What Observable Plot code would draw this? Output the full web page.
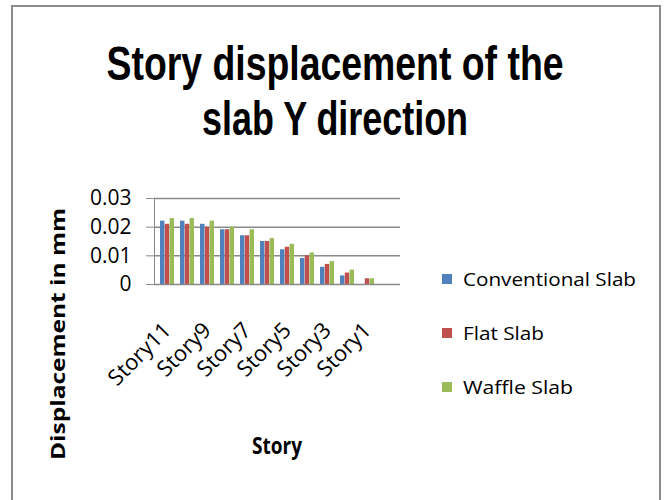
<!DOCTYPE html>
<html>
<head>
<meta charset="utf-8">
<script src="https://cdn.jsdelivr.net/npm/d3@7"></script>
<script src="https://cdn.jsdelivr.net/npm/@observablehq/plot@0.6"></script>
<style>
  html, body { margin: 0; padding: 0; background: #fff; }
  #chart svg { display: block; }
</style>
</head>
<body>
<div id="chart"></div>
<script>
// ---- data ----
const categories = ["Story11","Story10","Story9","Story8","Story7","Story6","Story5","Story4","Story3","Story2","Story1","Base"];
const seriesNames = ["Conventional Slab","Flat Slab","Waffle Slab"];
const conventional = [0.0221,0.0221,0.0210,0.0191,0.0170,0.0150,0.0121,0.0091,0.0060,0.0030,0,0];
const flat         = [0.0210,0.0210,0.0200,0.0191,0.0170,0.0150,0.0130,0.0100,0.0070,0.0040,0.0020,0];
const waffle       = [0.0230,0.0230,0.0221,0.0200,0.0191,0.0160,0.0140,0.0110,0.0080,0.0050,0.0020,0];
const yTicks = [0, 0.01, 0.02, 0.03];
const yTickLabels = ["0","0.01","0.02","0.03"];
const xTickLabels = ["Story11","Story9","Story7","Story5","Story3","Story1"];
const colors = ["#4F81BD","#C0504D","#9BBB59"];
const titleLines = ["Story displacement of the","slab Y direction"];
const xTitle = "Story";
const yTitle = "Displacement in mm";

const seriesValues = [conventional, flat, waffle];
const data = [];
seriesValues.forEach((vals, s) => vals.forEach((v, i) => data.push({story: categories[i], series: seriesNames[s], value: v})));

// ---- layout ----
const W = 666, H = 500;
const mL = 154, mR = 266, mT = 198, mB = 216;
const pIn = 0.3, pOut = 0.15;
const step = (W - mL - mR) / (categories.length - pIn + 2 * pOut);
const bw = step * (1 - pIn);
const sub = bw / 3;
const font = "'Open Sans', 'Liberation Sans', sans-serif";
const titleFont = "'Liberation Sans', Arial, sans-serif";
const gridColor = "#8a8a8a";

const barMark = (s) => Plot.barY(data.filter(d => d.series === seriesNames[s]), {
  x: "story", y: "value", fill: "series",
  insetLeft: s * sub, insetRight: (2 - s) * sub
});

const plot = Plot.plot({
  width: W, height: H,
  marginLeft: mL, marginRight: mR, marginTop: mT, marginBottom: mB,
  style: {fontFamily: font, fontSize: "21px", color: "#000", background: "transparent"},
  x: {type: "band", domain: categories, paddingInner: pIn, paddingOuter: pOut, axis: null},
  y: {domain: [0, 0.03], ticks: yTicks, tickFormat: d => yTickLabels[yTicks.indexOf(d)],
      tickSize: 8, tickPadding: 15, line: true, label: null},
  color: {domain: seriesNames, range: colors},
  marks: [
    Plot.ruleY(yTicks.slice(1), {stroke: gridColor, strokeWidth: 1.5}),
    barMark(0), barMark(1), barMark(2),
    Plot.ruleY([0], {stroke: gridColor, strokeWidth: 1.5}),
    Plot.text(xTickLabels, {x: d => d, text: d => d, frameAnchor: "bottom",
      rotate: -45, textAnchor: "end", dx: 5, dy: 47, fontSize: 22, fill: "#000"})
  ]
});

const svg = d3.select(plot);
// gray axis lines/ticks
plot.querySelectorAll('[stroke="currentColor"]').forEach(e => e.setAttribute("stroke", gridColor));

// border
svg.insert("rect", ":first-child")
  .attr("x", 12).attr("y", 6).attr("width", 648).attr("height", 500)
  .attr("fill", "#fff").attr("stroke", "#8c8c8c").attr("stroke-width", 2);

// title: narrow, tall lettering as in the reference
const sy = 1.6;
const titleLens = [457, 266];
const titleText = svg.append("text")
  .attr("transform", `translate(335,80) scale(1,${sy})`)
  .attr("text-anchor", "middle")
  .attr("font-family", titleFont).attr("font-weight", "bold").attr("font-size", 30)
  .attr("fill", "#000");
titleLines.forEach((t, i) => {
  titleText.append("tspan").text(t)
    .attr("x", 0).attr("y", i * 55 / sy)
    .attr("textLength", titleLens[i]).attr("lengthAdjust", "spacingAndGlyphs");
});

// axis titles
svg.append("text").text(xTitle)
  .attr("x", 277).attr("y", 454).attr("text-anchor", "middle")
  .attr("font-family", font).attr("font-weight", "bold").attr("font-size", 24)
  .attr("textLength", 50).attr("lengthAdjust", "spacingAndGlyphs").attr("fill", "#000");
svg.append("text").text(yTitle)
  .attr("transform", "translate(65,334) rotate(-90)").attr("text-anchor", "middle")
  .attr("font-family", font).attr("font-weight", "bold").attr("font-size", 20)
  .attr("textLength", 252).attr("lengthAdjust", "spacingAndGlyphs").attr("fill", "#000");

// legend
const legY = [279, 333, 387];
const legLen = [173, 81, 110];
seriesNames.forEach((s, i) => {
  svg.append("rect").attr("x", 442).attr("y", legY[i] - 5).attr("width", 10).attr("height", 10)
    .attr("fill", colors[i]);
  svg.append("text").text(s).attr("x", 463).attr("y", legY[i] + 7)
    .attr("text-anchor", "start")
    .attr("font-family", font).attr("font-size", 19)
    .attr("textLength", legLen[i]).attr("lengthAdjust", "spacingAndGlyphs").attr("fill", "#000");
});

document.getElementById("chart").appendChild(plot);
</script>
</body>
</html>
